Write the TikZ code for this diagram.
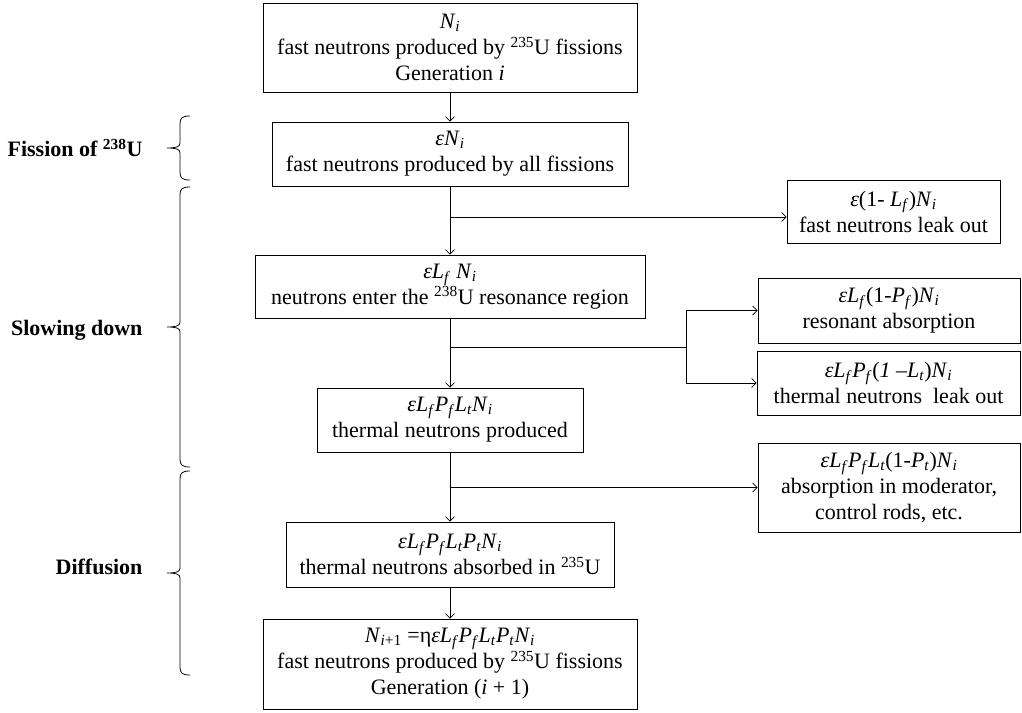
\documentclass[tikz,border=0pt]{standalone}
\usepackage{fontspec}
\setmainfont{Liberation Serif}
\usetikzlibrary{arrows.meta}
\newcommand{\vi}[1]{\textit{#1}}
\newcommand{\lo}[1]{\textsubscript{\textit{#1}}}
\newcommand{\Ni}{\vi{N}\lo{i}}
\begin{document}
\begin{tikzpicture}[x=1pt,y=-1pt,
  box/.style={draw,line width=0.9pt,align=center,inner sep=1pt,font=\fontsize{22}{26}\selectfont},
  conn/.style={line width=0.7pt,-{Straight Barb[length=4.5pt,width=9pt]}},
  plain/.style={line width=0.7pt},
  brc/.style={line width=0.8pt},
  lab/.style={font=\fontsize{22}{26}\selectfont\bfseries,anchor=east}]
\useasboundingbox (0,0) rectangle (1022,712);

% main column
\node[box,minimum width=374pt,minimum height=89pt] (b1) at (450,47.5)
  {\Ni\\fast neutrons produced by \textsuperscript{235}U fissions\\Generation \vi{i}};
\node[box,minimum width=356pt,minimum height=64pt] (b2) at (450,154)
  {\vi{ε}\Ni\\fast neutrons produced by all fissions};
\node[box,minimum width=390pt,minimum height=63pt] (b3) at (450,286.5)
  {\vi{εL}\lo{f} \Ni\\neutrons enter the \textsuperscript{238}U resonance region};
\node[box,minimum width=266pt,minimum height=64pt] (b4) at (450,420)
  {\vi{εL}\lo{f}\vi{P}\lo{f}\vi{L}\lo{t}\Ni\\thermal neutrons produced};
\node[box,minimum width=328pt,minimum height=65pt] (b5) at (450,554.5)
  {\vi{εL}\lo{f}\vi{P}\lo{f}\vi{L}\lo{t}\vi{P}\lo{t}\Ni\\thermal neutrons absorbed in \textsuperscript{235}U};
\node[box,minimum width=374pt,minimum height=90pt] (b6) at (450,664)
  {\vi{N}\textsubscript{\textit{i}+1} =η\vi{εL}\lo{f}\vi{P}\lo{f}\vi{L}\lo{t}\vi{P}\lo{t}\Ni\\fast neutrons produced by \textsuperscript{235}U fissions\\Generation (\vi{i} + 1)};

% right column
\node[box,minimum width=213pt,minimum height=63pt] (r1) at (893.5,211.5)
  {\vi{ε}(1- \vi{L}\lo{f})\Ni\\fast neutrons leak out};
\node[box,minimum width=262pt,minimum height=65pt] (r2) at (889,310.5)
  {\vi{εL}\lo{f}(1-\vi{P}\lo{f})\Ni\\resonant absorption};
\node[box,minimum width=263pt,minimum height=64pt] (r3) at (888.5,383)
  {\vi{εL}\lo{f}\vi{P}\lo{f}(\vi{1} –\vi{L}\lo{t})\Ni\\thermal neutrons\ \ leak out};
\node[box,minimum width=262pt,minimum height=89pt] (r4) at (889,487.5)
  {\vi{εL}\lo{f}\vi{P}\lo{f}\vi{L}\lo{t}(1-\vi{P}\lo{t})\Ni\\absorption in moderator,\\control rods, etc.};

% connectors
\draw[conn] (b1.south) -- (b2.north);
\draw[conn] (b2.south) -- (b3.north);
\coordinate (j1) at (450,217);
\draw[conn] (j1) -- (j1 -| r1.west);
\draw[conn] (b3.south) -- (b4.north);
\coordinate (j2) at (450,347);
\coordinate (k2) at (686,347);
\draw[plain] (j2) -- (k2);
\draw[plain] (k2 |- r2.west) -- (k2 |- r3.west);
\draw[conn] (k2 |- r2.west) -- (r2.west);
\draw[conn] (k2 |- r3.west) -- (r3.west);
\draw[conn] (b4.south) -- (b5.north);
\coordinate (j3) at (450,487.5);
\draw[conn] (j3) -- (j3 -| r4.west);
\draw[conn] (b5.south) -- (b6.north);

% labels
\node[lab] (lf) at (146,148) {Fission of \textsuperscript{238}U};
\node[lab] (ls) at (146,330) {Slowing down};
\node[lab] (ld) at (146,567) {Diffusion};

% braces
\draw[brc] (190,116) .. controls (182,116) and (180,118) .. (180,124) -- (180,143)
  .. controls (180,147) and (176,148) .. (167,148)
  .. controls (176,148) and (180,149) .. (180,153) -- (180,172)
  .. controls (180,178) and (182,180) .. (190,180);
\draw[brc] (190,187) .. controls (182,187) and (180,189) .. (180,195) -- (180,322)
  .. controls (180,326) and (176,327) .. (167,327)
  .. controls (176,327) and (180,328) .. (180,332) -- (180,459)
  .. controls (180,465) and (182,467) .. (190,467);
\draw[brc] (190,471) .. controls (182,471) and (180,473) .. (180,479) -- (180,568)
  .. controls (180,572) and (176,573) .. (167,573)
  .. controls (176,573) and (180,574) .. (180,578) -- (180,667)
  .. controls (180,673) and (182,675) .. (190,675);
\end{tikzpicture}
\end{document}
